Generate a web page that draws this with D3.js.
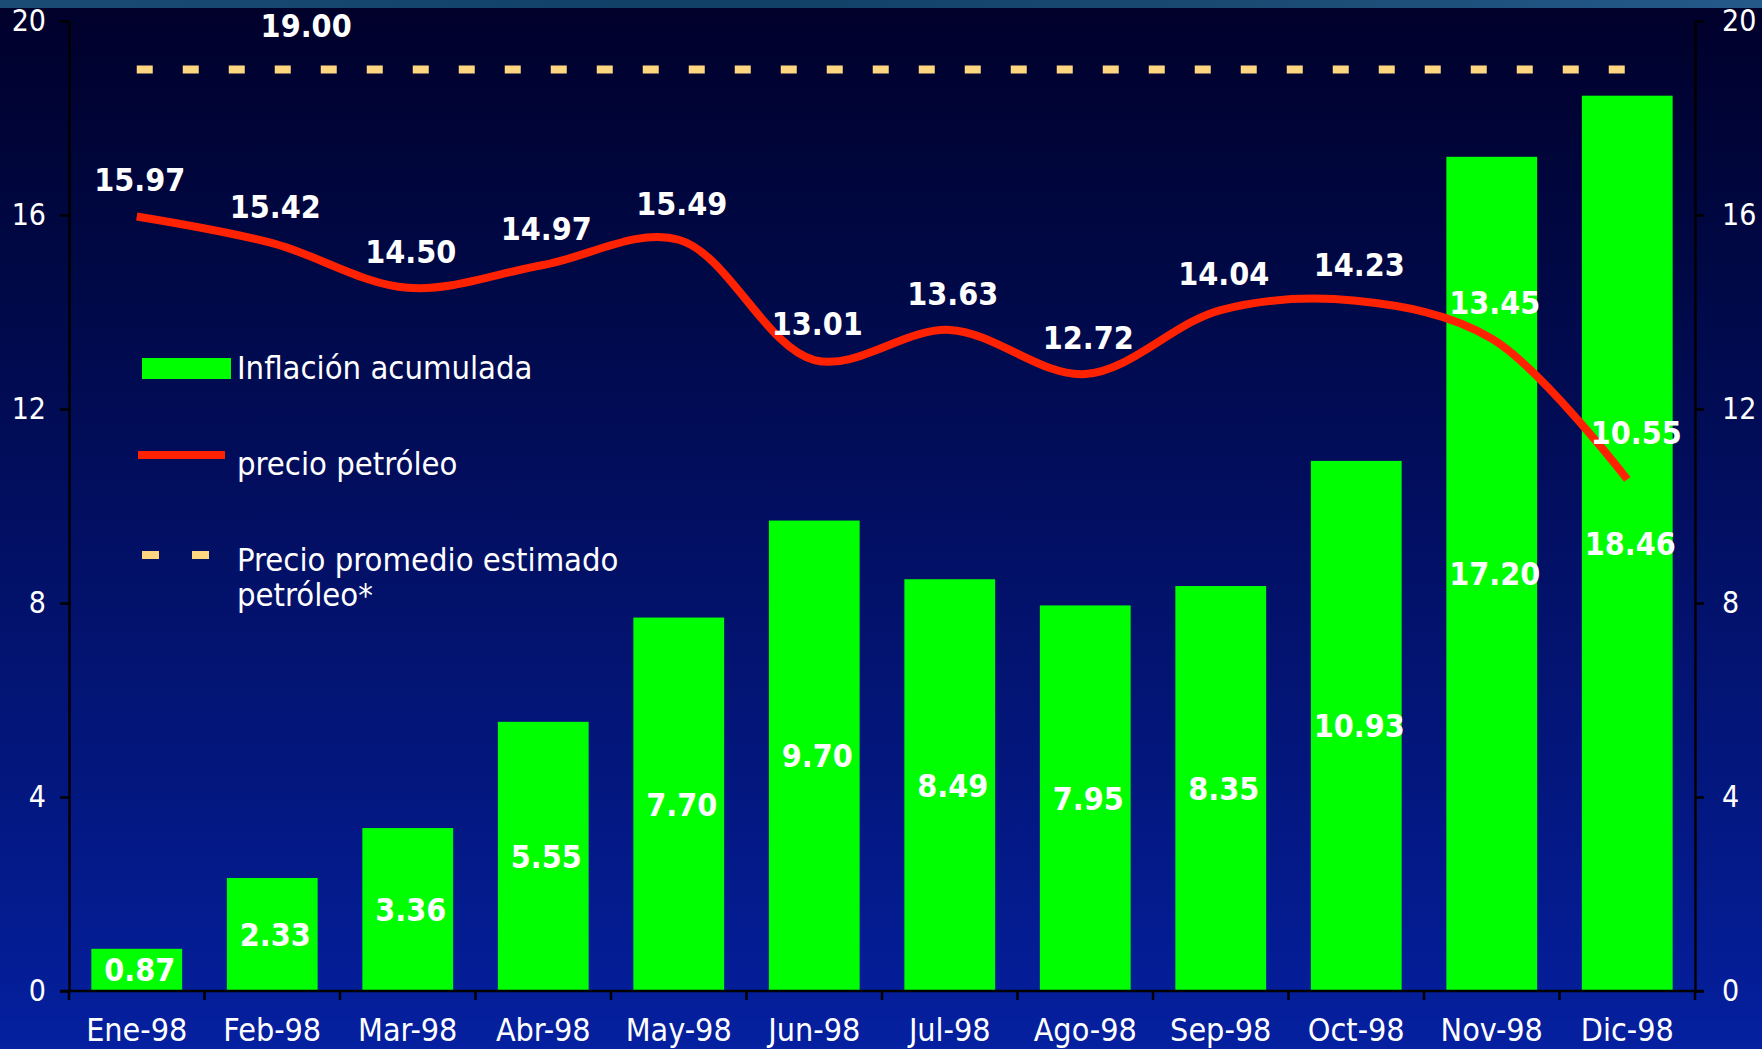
<!DOCTYPE html>
<html>
<head>
<meta charset="utf-8">
<script src="https://cdnjs.cloudflare.com/ajax/libs/d3/7.8.5/d3.min.js"></script>
<style>
  html, body { margin: 0; padding: 0; background: #000a4e; }
  svg { display: block; }
  text { font-family: 'DejaVu Sans Condensed', 'DejaVu Sans', sans-serif; font-stretch: condensed; }
</style>
</head>
<body>
<svg id="chart" width="1762" height="1049"></svg>
<script>
// Monthly data, 1998
const meses = ["Ene-98", "Feb-98", "Mar-98", "Abr-98", "May-98", "Jun-98",
               "Jul-98", "Ago-98", "Sep-98", "Oct-98", "Nov-98", "Dic-98"];
const inflacion = [0.87, 2.33, 3.36, 5.55, 7.70, 9.70, 8.49, 7.95, 8.35, 10.93, 17.20, 18.46];
const petroleo = [15.97, 15.42, 14.50, 14.97, 15.49, 13.01, 13.63, 12.72, 14.04, 14.23, 13.45, 10.55];
const precioEstimado = 19.00;
const yTicks = [0, 4, 8, 12, 16, 20];
const leyenda = ["Inflación acumulada", "precio petróleo", "Precio promedio estimado", "petróleo*"];

const W = 1762, H = 1049;
const plot = { left: 69, right: 1695, top: 21, bottom: 991 };
const valueFont = 32;
const svg = d3.select("#chart");
const defs = svg.append("defs");

// Background: dark navy at the top fading into royal blue at the bottom
const bg = defs.append("linearGradient").attr("id", "bg")
  .attr("x1", 0).attr("y1", 0).attr("x2", 0).attr("y2", 1);
[["0%", "#00002a"], ["25%", "#000844"], ["50%", "#020f62"], ["75%", "#03177f"], ["100%", "#0520a0"]]
  .forEach(([o, c]) => bg.append("stop").attr("offset", o).attr("stop-color", c));
svg.append("rect").attr("width", W).attr("height", H).attr("fill", "url(#bg)");

// Thin header strip along the top edge
const strip = defs.append("linearGradient").attr("id", "strip")
  .attr("x1", 0).attr("y1", 0).attr("x2", 1).attr("y2", 0);
[["0%", "#1a4c76"], ["40%", "#104066"], ["70%", "#1a4a72"], ["100%", "#24598a"]]
  .forEach(([o, c]) => strip.append("stop").attr("offset", o).attr("stop-color", c));
svg.append("rect").attr("width", W).attr("height", 8).attr("fill", "url(#strip)");

const x = d3.scaleBand().domain(meses).range([plot.left, plot.right]).padding(0);
const y = d3.scaleLinear().domain([0, 20]).range([plot.bottom, plot.top]);
const bw = x.bandwidth();
const barW = bw * 0.67;
const cx = m => x(m) + bw / 2;

// Bars: accumulated inflation
svg.append("g").selectAll("rect").data(meses).join("rect")
  .attr("x", m => cx(m) - barW / 2)
  .attr("y", (m, i) => y(inflacion[i]))
  .attr("width", barW)
  .attr("height", (m, i) => y(0) - y(inflacion[i]))
  .attr("fill", "#00ff00");

// Axes
const axisStyle = g => {
  g.selectAll("path, line").attr("stroke", "#000").attr("stroke-width", 2.5);
  g.selectAll("text").attr("fill", "#fff").attr("font-size", 30);
};
svg.append("g").attr("transform", `translate(${plot.left},0)`)
  .call(d3.axisLeft(y).tickValues(yTicks).tickSizeInner(9).tickSizeOuter(0).tickPadding(14))
  .call(axisStyle);
svg.append("g").attr("transform", `translate(${plot.right},0)`)
  .call(d3.axisRight(y).tickValues(yTicks).tickSizeInner(9).tickSizeOuter(0).tickPadding(18))
  .call(axisStyle);

const bottomAxis = svg.append("g").attr("transform", `translate(0,${plot.bottom})`)
  .call(d3.axisBottom(x).tickSize(0).tickPadding(27))
  .call(axisStyle);
bottomAxis.selectAll("text").attr("font-size", 32);
bottomAxis.select("path").attr("d", `M${plot.left - 9},0H${plot.right + 9}`);
// Category separators on the band boundaries
const bounds = meses.map(m => x(m)).concat([plot.right]);
bottomAxis.selectAll("line.sep").data(bounds).join("line").attr("class", "sep")
  .attr("x1", d => d).attr("x2", d => d).attr("y1", 0).attr("y2", 9)
  .attr("stroke", "#000").attr("stroke-width", 2.5);

// Estimated average oil price (dashed)
svg.append("line")
  .attr("x1", cx(meses[0])).attr("x2", cx(meses[meses.length - 1]))
  .attr("y1", y(precioEstimado)).attr("y2", y(precioEstimado))
  .attr("stroke", "#ffd680").attr("stroke-width", 8).attr("stroke-dasharray", "16 30");
svg.append("text")
  .attr("x", cx(meses[1]) + bw * 0.25).attr("y", y(precioEstimado) - 33)
  .attr("text-anchor", "middle").attr("fill", "#fff")
  .attr("font-size", valueFont).attr("font-weight", "bold")
  .text(precioEstimado.toFixed(2));

// Oil price line
const line = d3.line().x((d, i) => cx(meses[i])).y(d => y(d)).curve(d3.curveCatmullRom.alpha(0.5));
svg.append("path").datum(petroleo).attr("d", line)
  .attr("fill", "none").attr("stroke", "#ff2200").attr("stroke-width", 8)
  .attr("stroke-linejoin", "round");

// Bar value labels, centred in each bar
svg.append("g").selectAll("text").data(meses).join("text")
  .attr("x", m => cx(m) + 3)
  .attr("y", (m, i) => y(inflacion[i] / 2))
  .attr("dy", "0.36em")
  .attr("text-anchor", "middle").attr("fill", "#fff")
  .attr("font-size", valueFont).attr("font-weight", "bold")
  .text((m, i) => inflacion[i].toFixed(2));

// Oil price labels above the line
const last = petroleo.length - 1;
svg.append("g").selectAll("text").data(petroleo).join("text")
  .attr("x", (d, i) => cx(meses[i]) + (i === last ? 9 : 3))
  .attr("y", (d, i) => y(d) - (i === last ? 35 : 25))
  .attr("text-anchor", "middle").attr("fill", "#fff")
  .attr("font-size", valueFont).attr("font-weight", "bold")
  .text(d => d.toFixed(2));

// Legend
const lg = svg.append("g");
lg.append("rect").attr("x", 142).attr("y", 358).attr("width", 89).attr("height", 21).attr("fill", "#00ff00");
lg.append("line").attr("x1", 138).attr("x2", 225).attr("y1", 455).attr("y2", 455)
  .attr("stroke", "#ff2200").attr("stroke-width", 8);
lg.append("line").attr("x1", 142).attr("x2", 209).attr("y1", 555).attr("y2", 555)
  .attr("stroke", "#ffd680").attr("stroke-width", 8).attr("stroke-dasharray", "17 33");
const legendY = [379, 475, 571, 606];
lg.selectAll("text").data(leyenda).join("text")
  .attr("x", 237).attr("y", (d, i) => legendY[i])
  .attr("fill", "#fff").attr("font-size", 32.5)
  .text(d => d);
</script>
</body>
</html>
